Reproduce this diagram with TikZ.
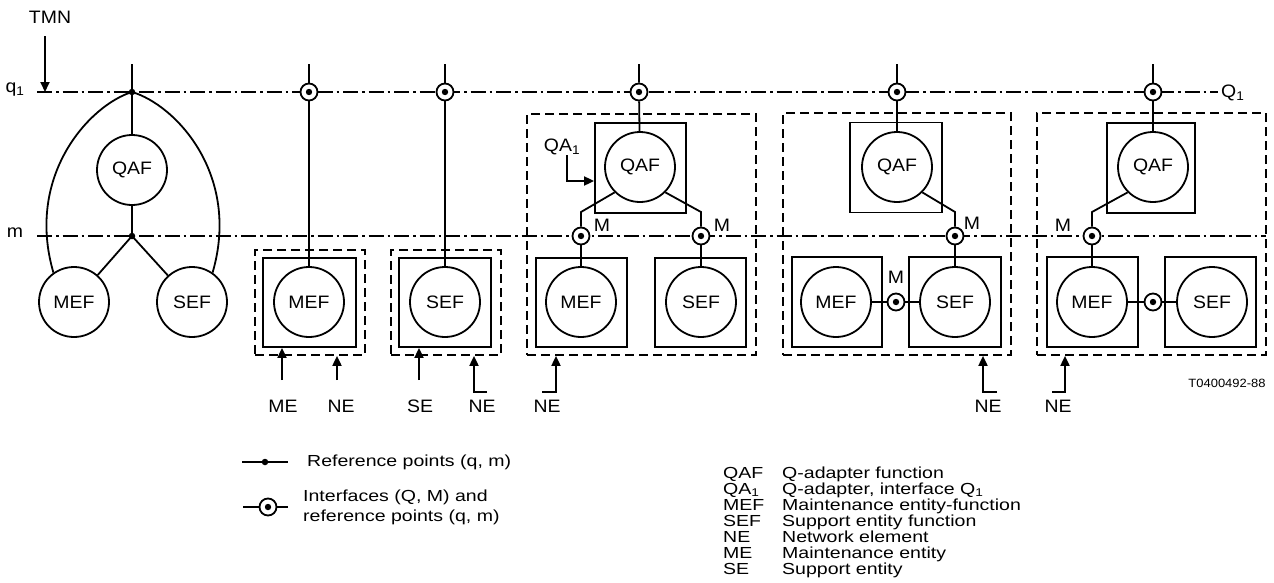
\documentclass[tikz,border=0pt]{standalone}
\usepackage{fontspec}
\setmainfont[FakeStretch=1.08]{Liberation Sans}
\newfontfamily\legendfont[FakeStretch=1.22]{Liberation Sans}
\usetikzlibrary{positioning, arrows.meta, calc}

\begin{document}
\begin{tikzpicture}[
      x=1pt, y=-1pt,
      fn/.style={circle, draw, line width=1.8pt, minimum size=70pt, inner sep=0pt, font=\fontsize{18}{20}\selectfont},
      unit/.style={draw, line width=1.8pt, inner sep=0pt},
      ne/.style={draw, line width=1.7pt, dash pattern=on 9pt off 5pt, inner sep=0pt},
      iface/.style={circle, draw, fill=white, line width=1.8pt, minimum size=17pt, inner sep=0pt,
        path picture={\fill[black] (path picture bounding box.center) circle (3.2pt);}},
      refpt/.style={circle, fill, minimum size=6.5pt, inner sep=0pt},
      refline/.style={line width=1.5pt, dash pattern=on 15pt off 4pt on 2.5pt off 4pt},
      link/.style={line width=1.8pt},
      feed/.style={line width=1.8pt, -{Triangle[length=10pt, width=9pt]}},
      lbl/.style={font=\fontsize{18}{20}\selectfont, inner sep=0pt},
      key/.style={font=\legendfont\fontsize{16}{20}\selectfont, inner sep=0pt},
  ]
    \useasboundingbox (0,0) rectangle (1274,582);

    % reference lines q1 and m
    \coordinate (q1w) at (37,92);
    \coordinate (q1e) at (1218,92);
    \coordinate (mw) at (37,236);
    \coordinate (me) at (1266,236);
    \draw[refline] (q1w) -- (q1e);
    \draw[refline] (mw) -- (me);
    \node[lbl] (q1lbl) at (15,90) {q\textsubscript{1}};
    \node[lbl] (mlbl) at (15,233) {m};
    \node[lbl, anchor=west] (Q1lbl) at (1221,93) {Q\textsubscript{1}};
    \node[lbl] (tmn) at (50,17) {TMN};
    \coordinate (tmnTail) at (45,36);
    \coordinate (tmnTip) at (45,92);
    \draw[feed] (tmnTail) -- (tmnTip);

    % reference points only
    \node[refpt] (rq) at (132,92) {};
    \node[refpt] (rm) at (132,236) {};
    \node[fn] (qafA) at (132,170) {QAF};
    \node[fn] (mefA) at (74,302) {MEF};
    \node[fn] (sefA) at (192,302) {SEF};
    \coordinate (topA) at (132,64);
    \draw[link] (topA) -- (rq.center) -- (qafA);
    \draw[link] (qafA) -- (rm.center);
    \draw[link] (rm.center) -- (mefA);
    \draw[link] (rm.center) -- (sefA);
    \draw[link] (rq.center) .. controls (90,105) and (25,175) .. (mefA.125);
    \draw[link] (rq.center) .. controls (176,105) and (241,175) .. (sefA.55);

    % ME in its own NE
    \node[iface] (ifB) at (309,92) {};
    \node[ne, minimum width=110pt, minimum height=105pt] (neB) at (310,302.5) {};
    \node[unit, minimum width=93pt, minimum height=89pt] (uB) at (309.5,302.5) {};
    \node[fn] (mefB) at (309,302) {MEF};
    \coordinate (topB) at (309,64);
    \draw[link] (topB) -- (ifB);
    \draw[link] (ifB) -- (mefB);
    \node[lbl] (meB) at (283,406) {ME};
    \node[lbl] (neBl) at (341,406) {NE};
    \coordinate (meBt) at (282,380);
    \coordinate (neBt) at (337,380);
    \draw[feed] (meBt) -- (meBt |- uB.south);
    \draw[feed] (neBt) -- (neBt |- neB.south);

    % SE in its own NE
    \node[iface] (ifC) at (445,92) {};
    \node[ne, minimum width=110pt, minimum height=105pt] (neC) at (446,302.5) {};
    \node[unit, minimum width=92pt, minimum height=89pt] (uC) at (445,302.5) {};
    \node[fn] (sefC) at (445,302) {SEF};
    \coordinate (topC) at (445,64);
    \draw[link] (topC) -- (ifC);
    \draw[link] (ifC) -- (sefC);
    \node[lbl] (seC) at (420,406) {SE};
    \node[lbl] (neCl) at (482,406) {NE};
    \coordinate (seCt) at (419,380);
    \coordinate (neCt) at (487,392);
    \coordinate (neCk) at (474,392);
    \draw[feed] (seCt) -- (seCt |- uC.south);
    \draw[feed] (neCt) -- (neCk) -- (neCk |- neC.south);

    % QA with separate ME and SE
    \node[ne, minimum width=229pt, minimum height=241pt] (neD) at (641.5,234.5) {};
    \node[iface] (ifD) at (639,92) {};
    \node[unit, minimum width=91pt, minimum height=90pt] (uqD) at (640.5,168) {};
    \node[fn] (qafD) at (640,167) {QAF};
    \node[unit, minimum width=91pt, minimum height=89pt] (umD) at (581.5,302.5) {};
    \node[unit, minimum width=91pt, minimum height=89pt] (usD) at (700.5,302.5) {};
    \node[fn] (mefD) at (581,302) {MEF};
    \node[fn] (sefD) at (701,302) {SEF};
    \node[iface] (mD1) at (581,236) {};
    \node[iface] (mD2) at (701,236) {};
    \coordinate (topD) at (639,64);
    \draw[link] (topD) -- (ifD) -- (qafD);
    \draw[link] (qafD.225) -- ([yshift=24pt]mD1.center) -- (mD1);
    \draw[link] (qafD.315) -- ([yshift=24pt]mD2.center) -- (mD2);
    \draw[link] (mD1) -- (mefD);
    \draw[link] (mD2) -- (sefD);
    \node[lbl] (MD1) at (602,225) {M};
    \node[lbl] (MD2) at (722,225) {M};
    \node[lbl] (qaD) at (562,147) {QA\textsubscript{1}};
    \coordinate (qaDk) at (567,181);
    \draw[feed] (qaD.south -| qaDk) -- (qaDk) -- (qaDk -| uqD.west);
    \node[lbl] (neDl) at (547,406) {NE};
    \coordinate (neDt) at (542,392);
    \coordinate (neDk) at (556,392);
    \draw[feed] (neDt) -- (neDk) -- (neDk |- neD.south);

    % QA, ME reached through SE
    \node[ne, minimum width=228pt, minimum height=242pt] (neE) at (897,234) {};
    \node[iface] (ifE) at (897,92) {};
    \node[unit, minimum width=92pt, minimum height=90pt] (uqE) at (896,167.5) {};
    \node[fn] (qafE) at (897,167) {QAF};
    \node[unit, minimum width=90pt, minimum height=90pt] (umE) at (837,302) {};
    \node[unit, minimum width=92pt, minimum height=90pt] (usE) at (955,302) {};
    \node[fn] (mefE) at (836,302) {MEF};
    \node[fn] (sefE) at (955,302) {SEF};
    \node[iface] (mE) at (955,236) {};
    \node[iface] (iE) at (896,302) {};
    \coordinate (topE) at (897,64);
    \draw[link] (topE) -- (ifE) -- (qafE);
    \draw[link] (qafE.315) -- ([yshift=24pt]mE.center) -- (mE);
    \draw[link] (mE) -- (sefE);
    \draw[link] (mefE) -- (iE) -- (sefE);
    \node[lbl] (ME1) at (972,223) {M};
    \node[lbl] (ME2) at (896,277) {M};
    \node[lbl] (neEl) at (988,406) {NE};
    \coordinate (neEt) at (997,392);
    \coordinate (neEk) at (983,392);
    \draw[feed] (neEt) -- (neEk) -- (neEk |- neE.south);

    % QA, SE reached through ME
    \node[ne, minimum width=229pt, minimum height=242pt] (neF) at (1151.5,234) {};
    \node[iface] (ifF) at (1153,92) {};
    \node[unit, minimum width=88pt, minimum height=90pt] (uqF) at (1151,168) {};
    \node[fn] (qafF) at (1153,167) {QAF};
    \node[unit, minimum width=91pt, minimum height=90pt] (umF) at (1092.5,302) {};
    \node[unit, minimum width=91pt, minimum height=90pt] (usF) at (1210.5,302) {};
    \node[fn] (mefF) at (1092,302) {MEF};
    \node[fn] (sefF) at (1212,302) {SEF};
    \node[iface] (mF) at (1092,236) {};
    \node[iface] (iF) at (1153,302) {};
    \coordinate (topF) at (1153,64);
    \draw[link] (topF) -- (ifF) -- (qafF);
    \draw[link] (qafF.225) -- ([yshift=24pt]mF.center) -- (mF);
    \draw[link] (mF) -- (mefF);
    \draw[link] (mefF) -- (iF) -- (sefF);
    \node[lbl] (MF) at (1063,225) {M};
    \node[lbl] (neFl) at (1058,406) {NE};
    \coordinate (neFt) at (1052,392);
    \coordinate (neFk) at (1065,392);
    \draw[feed] (neFt) -- (neFk) -- (neFk |- neF.south);
    \node[font=\fontsize{12}{12}\selectfont, inner sep=0pt] (code) at (1227,383) {T0400492-88};

    % legend, symbols
    \coordinate (k1w) at (242,462);
    \coordinate (k1e) at (288,462);
    \draw[link] (k1w) -- (k1e);
    \node[refpt] (k1dot) at (265,462) {};
    \node[key, anchor=west] (k1txt) at (307,462) {Reference points (q, m)};
    \coordinate (k2w) at (243,507);
    \coordinate (k2e) at (288,507);
    \draw[link] (k2w) -- (k2e);
    \node[iface] (k2if) at (268,507) {};
    \node[key, anchor=west, align=left] (k2txt) at (303,507) {Interfaces (Q, M) and\\reference points (q, m)};

    % legend, abbreviations
    \node[key, anchor=base west] (a1) at (723,478) {QAF};
    \node[key, anchor=base west] (d1) at (782,478) {Q-adapter function};
    \node[key, anchor=base west] (a2) at (723,494) {QA\textsubscript{1}};
    \node[key, anchor=base west] (d2) at (782,494) {Q-adapter, interface Q\textsubscript{1}};
    \node[key, anchor=base west] (a3) at (723,510) {MEF};
    \node[key, anchor=base west] (d3) at (782,510) {Maintenance entity-function};
    \node[key, anchor=base west] (a4) at (723,526) {SEF};
    \node[key, anchor=base west] (d4) at (782,526) {Support entity function};
    \node[key, anchor=base west] (a5) at (723,542) {NE};
    \node[key, anchor=base west] (d5) at (782,542) {Network element};
    \node[key, anchor=base west] (a6) at (723,558) {ME};
    \node[key, anchor=base west] (d6) at (782,558) {Maintenance entity};
    \node[key, anchor=base west] (a7) at (723,574) {SE};
    \node[key, anchor=base west] (d7) at (782,574) {Support entity};
  \end{tikzpicture}
\end{document}
